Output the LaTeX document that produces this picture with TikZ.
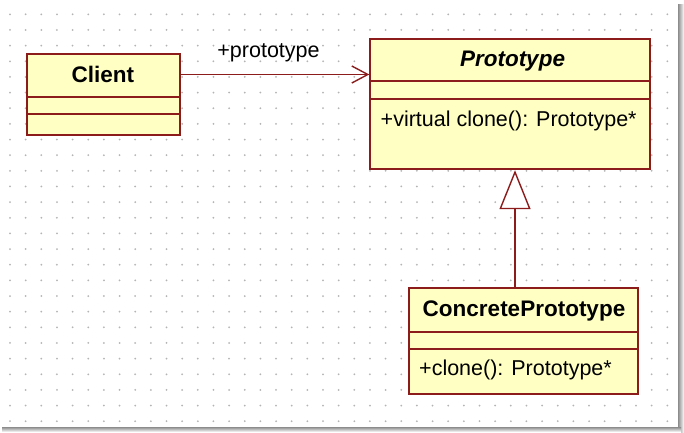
\documentclass[tikz,border=0pt]{standalone}
\usepackage{fontspec}
\setmainfont{Liberation Sans}
\usetikzlibrary{arrows.meta,calc}
\definecolor{umlborder}{RGB}{140,28,28}
\definecolor{umlfill}{RGB}{255,255,196}
\definecolor{griddot}{RGB}{180,180,180}
\tikzset{
  umlbox/.style={draw=umlborder,fill=umlfill,line width=1.9pt,rectangle,inner sep=0pt,anchor=north west},
  divider/.style={draw=umlborder,line width=1.8pt},
  titletxt/.style={font=\fontsize{22.5}{24}\selectfont\bfseries,anchor=base,inner sep=0pt},
  methtxt/.style={font=\fontsize{21.5}{23}\selectfont,anchor=base west,inner sep=0pt},
  assoc/.style={draw=umlborder,line width=1.4pt,-{Straight Barb[length=16pt,width=17pt,line width=1.4pt]}},
  gen/.style={draw=umlborder,line width=1.4pt,-{Triangle[open,length=39pt,width=31pt,line width=1.4pt,fill=white]}}
}
\begin{document}
\begin{tikzpicture}[x=1pt,y=-1pt]
\useasboundingbox (0,0) rectangle (684,432);
\fill[white] (0,0) rectangle (684,432);
% shadow of frame
\shade[left color=gray!90,right color=white] (678,4) rectangle (684,432);
\shade[top color=gray!90,bottom color=white] (2,427) rectangle (681,432);
% dot grid
\foreach \i in {0,...,42}{
  \foreach \j in {0,...,26}{
    \fill[griddot] ({10+15.65*\i},{14.3+15.65*\j}) circle (1.0);
  }
}
% boxes
\node[umlbox,minimum width=152.7pt,minimum height=81.3pt] (client) at (26,52.7) {};
\node[umlbox,minimum width=280pt,minimum height=130pt] (proto) at (369.3,38.3) {};
\node[umlbox,minimum width=229pt,minimum height=105.4pt] (concrete) at (408.3,287.3) {};
% dividers
\draw[divider] (26,96.7) -- (178.7,96.7);
\draw[divider] (26,114.3) -- (178.7,114.3);
\draw[divider] (369.3,81) -- (649.3,81);
\draw[divider] (369.3,99) -- (649.3,99);
\draw[divider] (408.3,331.7) -- (637.3,331.7);
\draw[divider] (408.3,349.3) -- (637.3,349.3);
% texts
\node[titletxt] (clientname) at (102.8,82.7) {Client};
\node[titletxt,font=\fontsize{22.5}{24}\selectfont\bfseries\itshape] (protoname) at (512.5,66) {Prototype};
\node[titletxt] (concretename) at (524,316.7) {ConcretePrototype};
\node[methtxt] (protometh) at (380.5,126.7) {+virtual clone(): Prototype*};
\node[methtxt] (concretemeth) at (419,375) {+clone(): Prototype*};
% connectors
\coordinate (ay) at (0,74.5);
\coordinate (gx) at (515,0);
\draw[assoc] (client.east |- ay) -- (proto.west |- ay);
\node[font=\fontsize{21.5}{23}\selectfont,anchor=base,inner sep=0pt] (assoclabel) at (268.5,57.3) {+prototype};
\draw[gen] (concrete.north -| gx) -- (proto.south -| gx);
\end{tikzpicture}
\end{document}
